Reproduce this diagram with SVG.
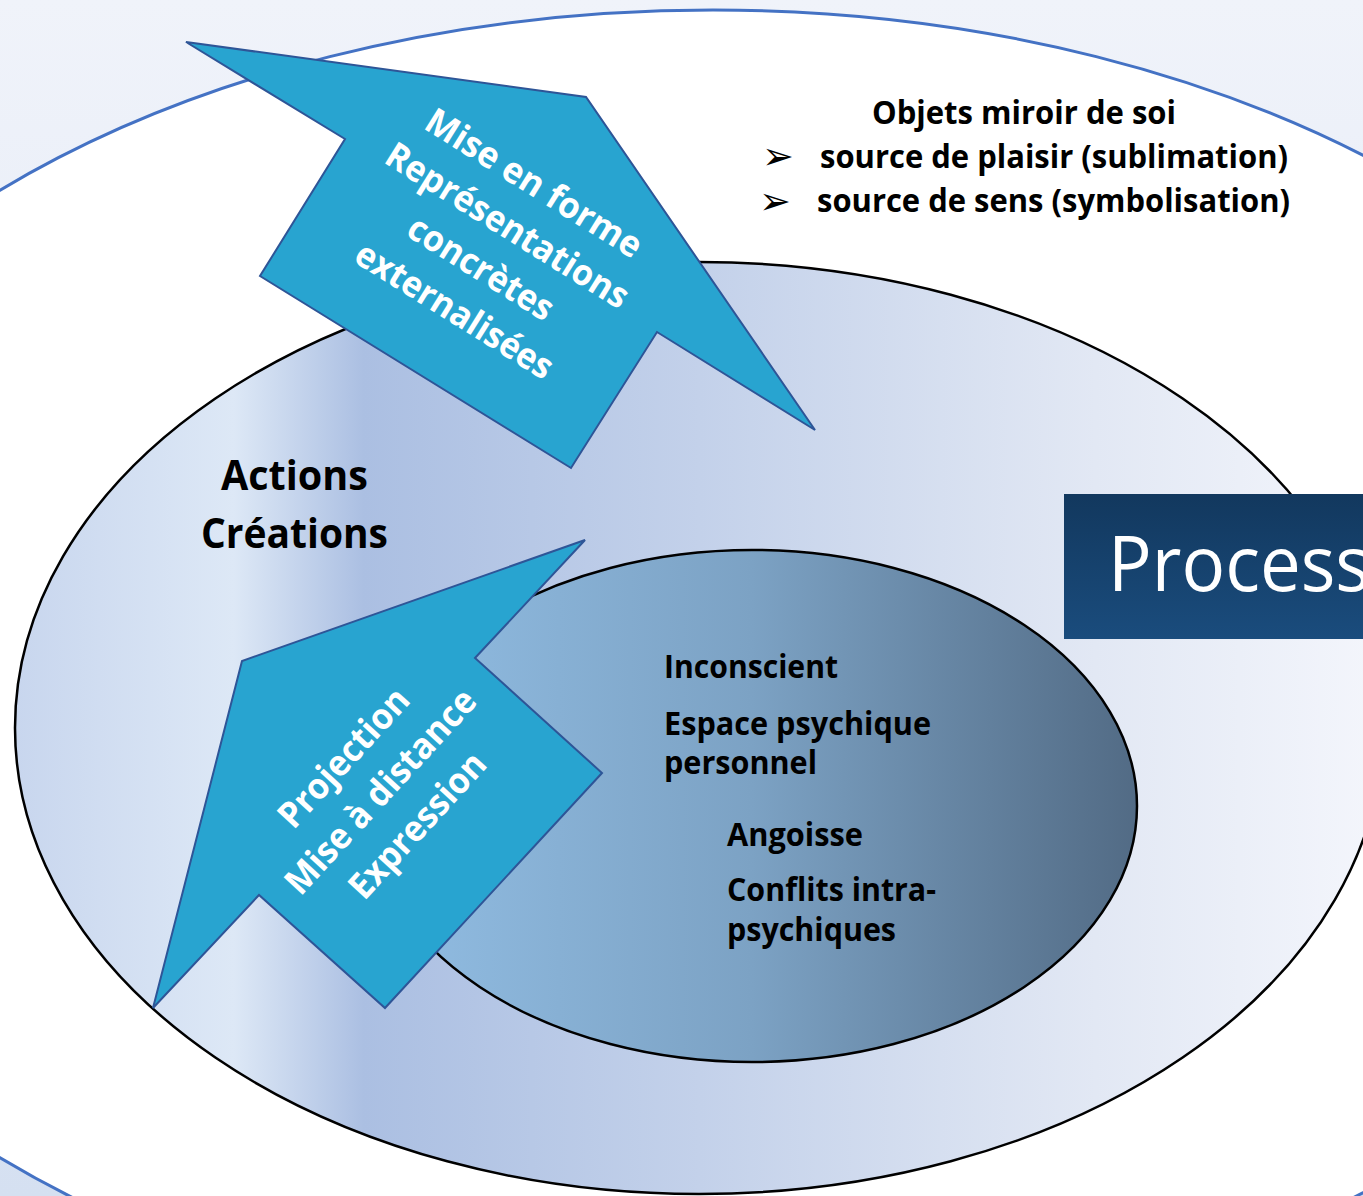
<svg xmlns="http://www.w3.org/2000/svg" width="1363" height="1196" viewBox="0 0 1363 1196">
<defs>
  <linearGradient id="bgGrad" x1="0" y1="0" x2="0" y2="1">
    <stop offset="0" stop-color="#f0f3fa"/>
    <stop offset="1" stop-color="#d5e0f1"/>
  </linearGradient>
  <linearGradient id="midGrad" gradientUnits="userSpaceOnUse" x1="15" y1="0" x2="1383" y2="0">
    <stop offset="0" stop-color="#c8d6ee"/>
    <stop offset="0.16" stop-color="#dde8f6"/>
    <stop offset="0.255" stop-color="#abbfe2"/>
    <stop offset="0.5" stop-color="#c3d1ea"/>
    <stop offset="0.79" stop-color="#e2e8f4"/>
    <stop offset="1" stop-color="#f4f6fc"/>
  </linearGradient>
  <linearGradient id="innerGrad" gradientUnits="userSpaceOnUse" x1="367" y1="0" x2="1137" y2="0">
    <stop offset="0" stop-color="#92bee4"/>
    <stop offset="0.5" stop-color="#7ca2c4"/>
    <stop offset="1" stop-color="#526b85"/>
  </linearGradient>
  <linearGradient id="procGrad" x1="0" y1="0" x2="0" y2="1">
    <stop offset="0" stop-color="#12385e"/>
    <stop offset="1" stop-color="#1a4c7d"/>
  </linearGradient>
</defs>
<style>
  .dark { font-family: "Open Sans", "Liberation Sans", sans-serif; font-weight: bold; fill: #000; }
  .light { font-family: "Open Sans", "Liberation Sans", sans-serif; font-weight: bold; fill: #fff; }
  .bullet { font-family: "DejaVu Sans", sans-serif; fill: #000; font-size: 38px; }
  .arrow { fill: #28a4d0; stroke: #2e5597; stroke-width: 2; stroke-linejoin: miter; }
</style>

<rect x="0" y="0" width="1363" height="1196" fill="url(#bgGrad)"/>

<g id="outer-ellipse">
  <ellipse cx="713" cy="674" rx="1041" ry="664" fill="#ffffff" stroke="#4472c4" stroke-width="3"/>
  <text class="dark" x="872" y="124" font-size="32" textLength="304" lengthAdjust="spacingAndGlyphs">Objets miroir de soi</text>
  <text class="bullet" x="762" y="169">➢</text>
  <text class="dark" x="820" y="168" font-size="32" textLength="468" lengthAdjust="spacingAndGlyphs">source de plaisir (sublimation)</text>
  <text class="bullet" x="759" y="214">➢</text>
  <text class="dark" x="817" y="212" font-size="32" textLength="473" lengthAdjust="spacingAndGlyphs">source de sens (symbolisation)</text>
</g>

<g id="middle-ellipse">
  <ellipse cx="699" cy="728" rx="684" ry="466" fill="url(#midGrad)" stroke="#000" stroke-width="2.5"/>
  <text class="dark" x="221" y="490" font-size="42" textLength="147" lengthAdjust="spacingAndGlyphs">Actions</text>
  <text class="dark" x="201" y="548" font-size="42" textLength="187" lengthAdjust="spacingAndGlyphs">Créations</text>
</g>

<g id="inner-ellipse">
  <ellipse cx="752" cy="806" rx="385" ry="256" fill="url(#innerGrad)" stroke="#000" stroke-width="2.5"/>
  <text class="dark" x="664" y="678" font-size="32" textLength="174" lengthAdjust="spacingAndGlyphs">Inconscient</text>
  <text class="dark" x="664" y="735" font-size="32" textLength="267" lengthAdjust="spacingAndGlyphs">Espace psychique</text>
  <text class="dark" x="664" y="774" font-size="32" textLength="153" lengthAdjust="spacingAndGlyphs">personnel</text>
  <text class="dark" x="727" y="846" font-size="32" textLength="136" lengthAdjust="spacingAndGlyphs">Angoisse</text>
  <text class="dark" x="727" y="901" font-size="32" textLength="209" lengthAdjust="spacingAndGlyphs">Conflits intra-</text>
  <text class="dark" x="727" y="941" font-size="32" textLength="169" lengthAdjust="spacingAndGlyphs">psychiques</text>
</g>

<g id="process">
  <rect x="1064" y="494" width="320" height="145" fill="url(#procGrad)"/>
  <text x="1108" y="591" font-family="'Open Sans', 'Liberation Sans', sans-serif" font-size="76" fill="#ffffff" textLength="262" lengthAdjust="spacingAndGlyphs">Process</text>
</g>

<g id="connectors">
  <g id="arrow-up">
    <polygon class="arrow" points="186,42 586,97 815,430 657,332 571,468 260,276 345,139"/>
    <g transform="translate(494,247) rotate(32)">
      <text class="light" x="0" y="-63" font-size="36" text-anchor="middle" textLength="248" lengthAdjust="spacingAndGlyphs">Mise en forme</text>
      <text class="light" x="0" y="-13" font-size="36" text-anchor="middle" textLength="279" lengthAdjust="spacingAndGlyphs">Représentations</text>
      <text class="light" x="0" y="37" font-size="36" text-anchor="middle" textLength="165" lengthAdjust="spacingAndGlyphs">concrètes</text>
      <text class="light" x="0" y="87" font-size="36" text-anchor="middle" textLength="226" lengthAdjust="spacingAndGlyphs">externalisées</text>
    </g>
  </g>
  <g id="arrow-left">
    <polygon class="arrow" points="153,1008 242,661 585,540 475,658 602,773 385,1008 259,895"/>
    <g transform="translate(380,791) rotate(-47.5)">
      <text class="light" x="0" y="-37" font-size="36" text-anchor="middle" textLength="175" lengthAdjust="spacingAndGlyphs">Projection</text>
      <text class="light" x="0" y="13" font-size="36" text-anchor="middle" textLength="264" lengthAdjust="spacingAndGlyphs">Mise à distance</text>
      <text class="light" x="0" y="63" font-size="36" text-anchor="middle" textLength="184" lengthAdjust="spacingAndGlyphs">Expression</text>
    </g>
  </g>
</g>
</svg>
